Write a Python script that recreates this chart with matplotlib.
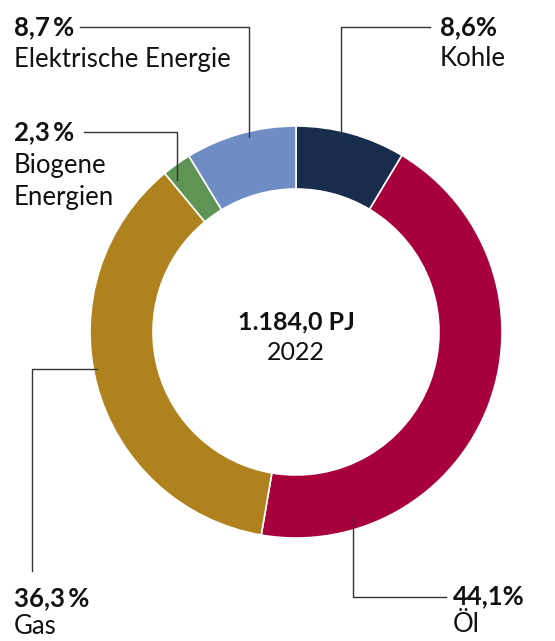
import matplotlib.pyplot as plt

plt.rcParams['font.family'] = ['Lato', 'DejaVu Sans']

labels = ['Kohle', 'Öl', 'Gas', 'Biogene\nEnergien', 'Elektrische Energie']
shares = [8.6, 44.1, 36.3, 2.3, 8.7]
pct_text = ['8,6%', '44,1%', '36,3\u2009%', '2,3\u2009%', '8,7\u2009%']
colors = ['#172d4b', '#a8003c', '#b0821e', '#5e9454', '#6f8cc4']
total_text = '1.184,0 PJ'
year_text = '2022'

W, H = 555, 641
fig = plt.figure(figsize=(W / 100, H / 100), dpi=100)
ax = fig.add_axes([0, 0, 1, 1])

cx, cy, r = 296, H - 332, 206
ax.pie(shares, colors=colors, startangle=90, counterclock=False,
       center=(cx, cy), radius=r, frame=True,
       wedgeprops=dict(width=63, edgecolor='white', linewidth=1.2))
ax.set_xlim(0, W)
ax.set_ylim(0, H)
ax.axis('off')

ax.text(cx, H - 322, total_text, ha='center', va='center', fontsize=18, fontweight='bold', color='#111111')
ax.text(cx, H - 352, year_text, ha='center', va='center', fontsize=18, color='#111111')

def y(v):
    return H - v

lc = dict(color='#333333', lw=1)
# leader lines (pixel routes)
ax.plot([341, 341, 430], [y(138), y(27), y(27)], **lc)          # Kohle
ax.plot([353, 353, 446], [y(517), y(597), y(597)], **lc)        # Öl
ax.plot([97, 32, 32], [y(369), y(369), y(571)], **lc)           # Gas
ax.plot([84, 177, 177], [y(132), y(132), y(180)], **lc)         # Biogene
ax.plot([80, 249, 249], [y(27), y(27), y(137)], **lc)           # Elektrische

fs = 18.5
def label(x, ytop, i, step=31):
    ax.text(x, y(ytop), pct_text[i], ha='left', va='center', fontsize=fs, fontweight='bold', color='#111111')
    for k, line in enumerate(labels[i].split('\n')):
        ax.text(x, y(ytop + step * (k + 1) + 1), line, ha='left', va='center', fontsize=fs, color='#111111')

label(440, 27, 0)
label(453, 596, 1, step=28)
label(14, 598, 2, step=27)
label(14, 132, 3, step=32)
label(14, 27, 4)

fig.savefig('out.png', dpi=100)
